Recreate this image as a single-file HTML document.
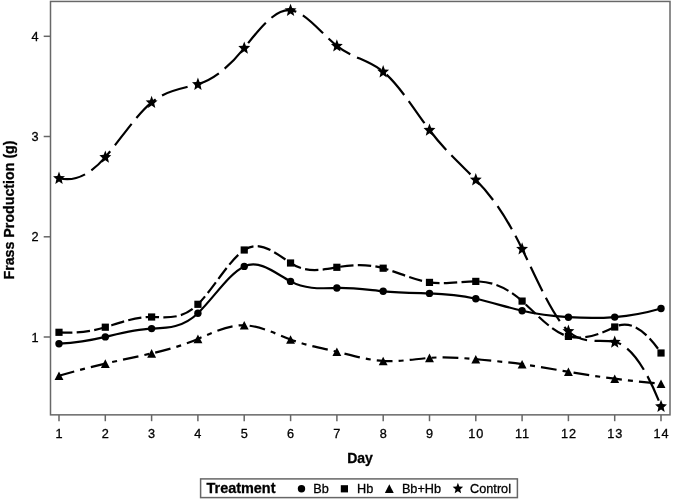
<!DOCTYPE html>
<html><head><meta charset="utf-8"><title>Frass Production</title>
<style>
html,body{margin:0;padding:0;background:#fff;}
body{width:675px;height:500px;overflow:hidden;}
svg{display:block;}
text{font-family:"Liberation Sans",sans-serif;fill:#000;stroke:#000;stroke-width:0.3px;}
.v{font-size:12.7px;}
.l{font-size:14px;font-weight:bold;}
</style></head><body>
<svg width="675" height="500" viewBox="0 0 675 500">
<rect x="0" y="0" width="675" height="500" fill="#fff"/>

<rect x="50.5" y="1.45" width="619.5" height="413.4" fill="none" stroke="#686868" stroke-width="1.5"/>
<g stroke="#666" stroke-width="1.5">
<line x1="43.7" y1="36.3" x2="50" y2="36.3"/>
<line x1="43.7" y1="136.5" x2="50" y2="136.5"/>
<line x1="43.7" y1="236.8" x2="50" y2="236.8"/>
<line x1="43.7" y1="337.0" x2="50" y2="337.0"/>
<line x1="59.0" y1="415" x2="59.0" y2="421.2"/>
<line x1="105.3" y1="415" x2="105.3" y2="421.2"/>
<line x1="151.6" y1="415" x2="151.6" y2="421.2"/>
<line x1="197.9" y1="415" x2="197.9" y2="421.2"/>
<line x1="244.2" y1="415" x2="244.2" y2="421.2"/>
<line x1="290.6" y1="415" x2="290.6" y2="421.2"/>
<line x1="336.9" y1="415" x2="336.9" y2="421.2"/>
<line x1="383.2" y1="415" x2="383.2" y2="421.2"/>
<line x1="429.5" y1="415" x2="429.5" y2="421.2"/>
<line x1="475.8" y1="415" x2="475.8" y2="421.2"/>
<line x1="522.1" y1="415" x2="522.1" y2="421.2"/>
<line x1="568.4" y1="415" x2="568.4" y2="421.2"/>
<line x1="614.7" y1="415" x2="614.7" y2="421.2"/>
<line x1="661.0" y1="415" x2="661.0" y2="421.2"/>
</g>
<g class="v" text-anchor="middle">
<text x="35" y="40.8">4</text>
<text x="35" y="141.0">3</text>
<text x="35" y="241.3">2</text>
<text x="35" y="341.5">1</text>
<text x="59.0" y="437.8">1</text>
<text x="105.3" y="437.8">2</text>
<text x="151.6" y="437.8">3</text>
<text x="197.9" y="437.8">4</text>
<text x="244.2" y="437.8">5</text>
<text x="290.6" y="437.8">6</text>
<text x="336.9" y="437.8">7</text>
<text x="383.2" y="437.8">8</text>
<text x="429.5" y="437.8">9</text>
<text x="476.2" y="437.8" style="letter-spacing:0.9px">10</text>
<text x="522.6" y="437.8" style="letter-spacing:0.9px">11</text>
<text x="568.9" y="437.8" style="letter-spacing:0.9px">12</text>
<text x="615.2" y="437.8" style="letter-spacing:0.9px">13</text>
<text x="661.5" y="437.8" style="letter-spacing:0.9px">14</text>
</g>
<text class="l" x="360" y="462.5" text-anchor="middle">Day</text>
<text class="l" transform="translate(13.5,210) rotate(-90)" text-anchor="middle" textLength="139.1" lengthAdjust="spacingAndGlyphs">Frass Production (g)</text>
<path d="M59.00,343.70 C74.44,342.86 89.87,340.59 105.31,336.90 C120.75,333.21 136.18,329.15 151.62,328.60 C167.06,328.05 182.49,327.95 197.93,313.20 C213.37,298.45 228.80,273.57 244.24,266.40 C259.68,259.23 275.11,273.07 290.55,281.40 C305.99,289.73 321.42,288.39 336.86,288.00 C352.30,287.61 367.73,289.85 383.17,291.30 C398.61,292.75 414.04,292.93 429.48,293.40 C444.92,293.87 460.35,295.35 475.79,298.80 C491.23,302.25 506.66,307.18 522.10,310.80 C537.54,314.42 552.97,316.24 568.41,317.20 C583.85,318.16 599.28,318.35 614.72,317.10 C630.16,315.85 645.59,312.98 661.03,308.50" fill="none" stroke="#000" stroke-width="2.2"/>
<g fill="#000"><circle cx="59.00" cy="343.70" r="3.70"/><circle cx="105.31" cy="336.90" r="3.70"/><circle cx="151.62" cy="328.60" r="3.70"/><circle cx="197.93" cy="313.20" r="3.70"/><circle cx="244.24" cy="266.40" r="3.70"/><circle cx="290.55" cy="281.40" r="3.70"/><circle cx="336.86" cy="288.00" r="3.70"/><circle cx="383.17" cy="291.30" r="3.70"/><circle cx="429.48" cy="293.40" r="3.70"/><circle cx="475.79" cy="298.80" r="3.70"/><circle cx="522.10" cy="310.80" r="3.70"/><circle cx="568.41" cy="317.20" r="3.70"/><circle cx="614.72" cy="317.10" r="3.70"/><circle cx="661.03" cy="308.50" r="3.70"/></g>
<path d="M59.00,332.30 C74.44,333.59 89.87,331.89 105.31,327.20 C120.75,322.51 136.18,316.76 151.62,317.00 C167.06,317.24 182.49,319.82 197.93,304.30 C213.37,288.78 228.80,260.50 244.24,250.00 C259.68,239.50 275.11,252.67 290.55,263.00 C305.99,273.33 321.42,270.01 336.86,267.30 C352.30,264.59 367.73,263.92 383.17,268.20 C398.61,272.48 414.04,280.13 429.48,282.40 C444.92,284.67 460.35,281.50 475.79,281.40 C491.23,281.30 506.66,287.17 522.10,301.10 C537.54,315.03 552.97,332.73 568.41,336.40 C583.85,340.07 599.28,334.67 614.72,327.00 C630.16,319.33 645.59,330.33 661.03,353.00" fill="none" stroke="#000" stroke-width="2.2" stroke-dasharray="13.4 4.3"/>
<g fill="#000"><rect x="55.40" y="328.70" width="7.20" height="7.20"/><rect x="101.71" y="323.60" width="7.20" height="7.20"/><rect x="148.02" y="313.40" width="7.20" height="7.20"/><rect x="194.33" y="300.70" width="7.20" height="7.20"/><rect x="240.64" y="246.40" width="7.20" height="7.20"/><rect x="286.95" y="259.40" width="7.20" height="7.20"/><rect x="333.26" y="263.70" width="7.20" height="7.20"/><rect x="379.57" y="264.60" width="7.20" height="7.20"/><rect x="425.88" y="278.80" width="7.20" height="7.20"/><rect x="472.19" y="277.80" width="7.20" height="7.20"/><rect x="518.50" y="297.50" width="7.20" height="7.20"/><rect x="564.81" y="332.80" width="7.20" height="7.20"/><rect x="611.12" y="323.40" width="7.20" height="7.20"/><rect x="657.43" y="349.40" width="7.20" height="7.20"/></g>
<path d="M59.00,375.80 C74.44,371.21 89.87,367.15 105.31,363.60 C120.75,360.05 136.18,356.86 151.62,353.40 C167.06,349.94 182.49,345.63 197.93,338.90 C213.37,332.17 228.80,324.87 244.24,325.30 C259.68,325.73 275.11,333.59 290.55,339.50 C305.99,345.41 321.42,348.01 336.86,351.70 C352.30,355.39 367.73,360.09 383.17,361.00 C398.61,361.91 414.04,359.15 429.48,357.90 C444.92,356.65 460.35,357.76 475.79,359.20 C491.23,360.64 506.66,362.07 522.10,364.20 C537.54,366.33 552.97,369.15 568.41,371.80 C583.85,374.45 599.28,376.72 614.72,378.70 C630.16,380.68 645.59,382.38 661.03,383.80" fill="none" stroke="#000" stroke-width="2.2" stroke-dasharray="15.8 6.1 5 6.1"/>
<g fill="#000"><polygon points="59.00,371.50 63.45,380.10 54.55,380.10"/><polygon points="105.31,359.30 109.76,367.90 100.86,367.90"/><polygon points="151.62,349.10 156.07,357.70 147.17,357.70"/><polygon points="197.93,334.60 202.38,343.20 193.48,343.20"/><polygon points="244.24,321.00 248.69,329.60 239.79,329.60"/><polygon points="290.55,335.20 295.00,343.80 286.10,343.80"/><polygon points="336.86,347.40 341.31,356.00 332.41,356.00"/><polygon points="383.17,356.70 387.62,365.30 378.72,365.30"/><polygon points="429.48,353.60 433.93,362.20 425.03,362.20"/><polygon points="475.79,354.90 480.24,363.50 471.34,363.50"/><polygon points="522.10,359.90 526.55,368.50 517.65,368.50"/><polygon points="568.41,367.50 572.86,376.10 563.96,376.10"/><polygon points="614.72,374.40 619.17,383.00 610.27,383.00"/><polygon points="661.03,379.50 665.48,388.10 656.58,388.10"/></g>
<path d="M59.00,178.20 C74.44,182.05 89.87,175.02 105.31,157.10 C120.75,139.18 136.18,115.13 151.62,102.40 C167.06,89.67 182.49,88.77 197.93,84.20 C213.37,79.63 228.80,67.34 244.24,48.00 C259.68,28.66 275.11,8.59 290.55,10.30 C305.99,12.01 321.42,33.64 336.86,45.90 C352.30,58.16 367.73,59.21 383.17,71.70 C398.61,84.19 414.04,109.48 429.48,130.00 C444.92,150.52 460.35,164.01 475.79,179.70 C491.23,195.39 506.66,217.00 522.10,248.90 C537.54,280.80 552.97,317.00 568.41,331.20 C583.85,345.40 599.28,338.78 614.72,342.00 C630.16,345.22 645.59,366.66 661.03,406.30" fill="none" stroke="#000" stroke-width="2.2" stroke-dasharray="27 7.5"/>
<g fill="#000"><polygon points="59.00,171.59 60.62,175.97 64.94,176.29 61.62,179.33 62.67,183.91 59.00,181.40 55.33,183.91 56.38,179.33 53.06,176.29 57.38,175.97"/><polygon points="105.31,150.49 106.93,154.87 111.25,155.19 107.93,158.23 108.98,162.81 105.31,160.30 101.64,162.81 102.69,158.23 99.37,155.19 103.69,154.87"/><polygon points="151.62,95.79 153.24,100.17 157.56,100.49 154.24,103.53 155.29,108.11 151.62,105.60 147.95,108.11 149.00,103.53 145.68,100.49 150.00,100.17"/><polygon points="197.93,77.59 199.55,81.97 203.87,82.29 200.55,85.33 201.60,89.91 197.93,87.40 194.26,89.91 195.31,85.33 191.99,82.29 196.31,81.97"/><polygon points="244.24,41.39 245.86,45.77 250.18,46.09 246.86,49.13 247.91,53.71 244.24,51.20 240.57,53.71 241.62,49.13 238.30,46.09 242.62,45.77"/><polygon points="290.55,3.69 292.17,8.07 296.49,8.39 293.17,11.43 294.22,16.01 290.55,13.50 286.88,16.01 287.93,11.43 284.61,8.39 288.93,8.07"/><polygon points="336.86,39.29 338.48,43.67 342.80,43.99 339.48,47.03 340.53,51.61 336.86,49.10 333.19,51.61 334.24,47.03 330.92,43.99 335.24,43.67"/><polygon points="383.17,65.09 384.79,69.47 389.11,69.79 385.79,72.83 386.84,77.41 383.17,74.90 379.50,77.41 380.55,72.83 377.23,69.79 381.55,69.47"/><polygon points="429.48,123.39 431.10,127.77 435.42,128.09 432.10,131.13 433.15,135.71 429.48,133.20 425.81,135.71 426.86,131.13 423.54,128.09 427.86,127.77"/><polygon points="475.79,173.09 477.41,177.47 481.73,177.79 478.41,180.83 479.46,185.41 475.79,182.90 472.12,185.41 473.17,180.83 469.85,177.79 474.17,177.47"/><polygon points="522.10,242.29 523.72,246.67 528.04,246.99 524.72,250.03 525.77,254.61 522.10,252.10 518.43,254.61 519.48,250.03 516.16,246.99 520.48,246.67"/><polygon points="568.41,324.59 570.03,328.97 574.35,329.29 571.03,332.33 572.08,336.91 568.41,334.40 564.74,336.91 565.79,332.33 562.47,329.29 566.79,328.97"/><polygon points="614.72,335.39 616.34,339.77 620.66,340.09 617.34,343.13 618.39,347.71 614.72,345.20 611.05,347.71 612.10,343.13 608.78,340.09 613.10,339.77"/><polygon points="661.03,399.69 662.65,404.07 666.97,404.39 663.65,407.43 664.70,412.01 661.03,409.50 657.36,412.01 658.41,407.43 655.09,404.39 659.41,404.07"/></g>
<rect x="200.6" y="478.9" width="316.8" height="18.7" fill="#fff" stroke="#666" stroke-width="1.5"/>
<text class="l" x="206.5" y="493" textLength="69" lengthAdjust="spacingAndGlyphs">Treatment</text>
<g fill="#000"><circle cx="301.50" cy="488.80" r="3.70"/><rect x="340.80" y="485.20" width="7.20" height="7.20"/><polygon points="389.30,484.30 393.75,492.90 384.85,492.90"/><polygon points="457.90,482.72 459.31,486.52 463.13,486.78 460.18,489.39 461.13,493.36 457.90,491.17 454.67,493.36 455.62,489.39 452.67,486.78 456.49,486.52"/></g>
<g class="v">
<text x="313.2" y="493.3">Bb</text>
<text x="357" y="493.3">Hb</text>
<text x="401.9" y="493.3">Bb+Hb</text>
<text x="470.1" y="493.3">Control</text>
</g>
</svg></body></html>
